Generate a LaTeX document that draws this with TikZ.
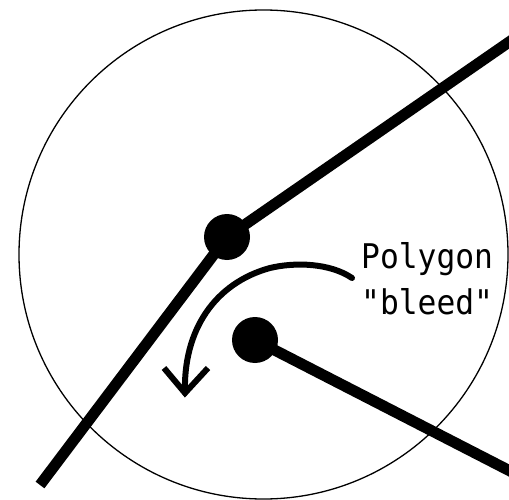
\documentclass[tikz,border=0pt]{standalone}
\usepackage{fontspec}
\newfontfamily\monofont{DejaVu Sans Mono}
\begin{document}
\begin{tikzpicture}[x=1pt,y=-1pt,
  vertex/.style={circle,fill=black,inner sep=0pt,minimum size=46pt},
  edge/.style={line width=11pt,line cap=butt},
  bleedarrow/.style={line width=6pt},
  lbl/.style={inner sep=0pt,anchor=base west,font=\monofont\fontsize{34}{40}\selectfont}]
\useasboundingbox (0,0) rectangle (509,500);
\node[draw,circle,line width=1.3pt,minimum size=489pt,inner sep=0pt] (ring) at (263.5,254.5) {};
\node[vertex] (v1) at (227,237) {};
\node[vertex] (v2) at (255,340) {};
\coordinate (a) at (40,485);
\coordinate (b) at (512,40);
\coordinate (c) at (512,472);
\draw[edge] (a) -- (v1.center) -- (b);
\draw[edge] (v2.center) -- (c);
\coordinate (s) at (352,278);
\coordinate (m) at (270,268);
\coordinate (tip) at (185,393);
\coordinate (wl) at (164,368);
\coordinate (wr) at (208,368);
\draw[bleedarrow,line cap=round]
  (s) .. controls (330,263) and (295,262) .. (m)
      .. controls (215,283) and (183,330) .. (tip);
\draw[bleedarrow,line join=miter] (wl) -- (tip) -- (wr);
\node[lbl] (t1) at (361,268) {\scalebox{0.92}[1]{Polygon}};
\node[lbl] (t2) at (361,314) {\scalebox{0.92}[1]{"bleed"}};
\end{tikzpicture}
\end{document}
